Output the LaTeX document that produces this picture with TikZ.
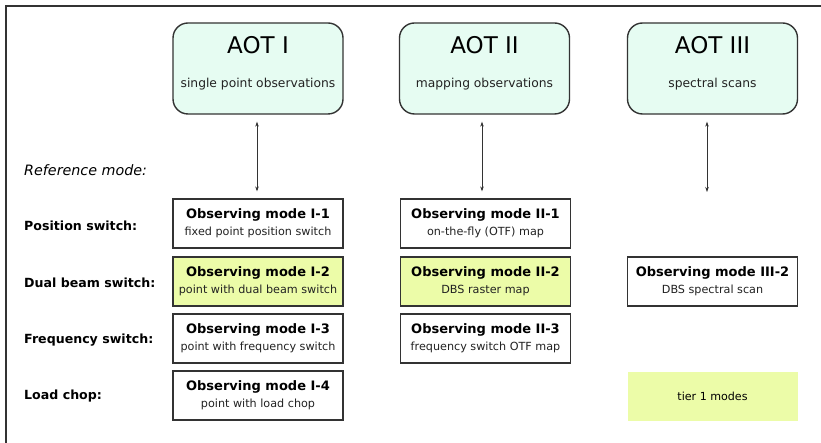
\documentclass[tikz,border=0pt]{standalone}
\usepackage{fontspec}
\setmainfont{DejaVu Sans}
\usetikzlibrary{arrows.meta,calc}
\definecolor{frameline}{HTML}{333333}
\definecolor{aotfill}{HTML}{E6FCF2}
\definecolor{tierfill}{HTML}{ECFCA8}
\definecolor{subtext}{HTML}{222222}
\tikzset{
  aotbox/.style={draw=frameline, line width=1.4pt, fill=aotfill, rounded corners=15pt,
    minimum width=170pt, minimum height=91pt, inner sep=0pt},
  aottitle/.style={font=\fontsize{23}{26}\selectfont, text=black, inner sep=0pt},
  aotsub/.style={font=\fontsize{12.3}{14}\selectfont, text=subtext, inner sep=0pt},
  modebox/.style={draw=frameline, line width=1.2pt, fill=white,
    minimum width=170pt, minimum height=49pt, inner sep=0pt, align=center,
    font=\fontsize{11.2}{17}\selectfont},
  tier/.style={fill=tierfill},
  rowlabel/.style={anchor=west, font=\fontsize{12.6}{14}\selectfont\bfseries, inner sep=0pt},
  linkarrow/.style={{Stealth[length=5pt,width=3.5pt]}-{Stealth[length=5pt,width=3.5pt]}, line width=0.6pt, draw=frameline}
}
\newcommand{\modetext}[2]{{\fontsize{13}{17}\selectfont\bfseries #1}\\{\color{subtext}#2}}
\begin{document}
\begin{tikzpicture}[x=1pt,y=-1pt]
  \useasboundingbox (0,0) rectangle (821,443);
  % frame lines along the top and left edges
  \draw[frameline, line width=1.4pt] (6,443) -- (6,6) -- (821,6);

  % AOT headers
  \node[aotbox] (a1) at (258,68.5) {};
  \node[aotbox] (a2) at (484.5,68.5) {};
  \node[aotbox] (a3) at (712.5,68.5) {};
  \node[aottitle] (a1t) at (258,45) {AOT I};
  \node[aottitle] (a2t) at (484.5,45) {AOT II};
  \node[aottitle] (a3t) at (712.5,45) {AOT III};
  \node[aotsub] (a1s) at (258,84) {single point observations};
  \node[aotsub] (a2s) at (484.5,84) {mapping observations};
  \node[aotsub] (a3s) at (712.5,84) {spectral scans};

  % row labels
  \node[anchor=west, inner sep=0pt, font=\fontsize{14.3}{16}\selectfont\itshape] (refmode) at (24,170) {Reference mode:};
  \node[rowlabel] (r1) at (24,226) {Position switch:};
  \node[rowlabel] (r2) at (24,283) {Dual beam switch:};
  \node[rowlabel] (r3) at (24,340) {Frequency switch:};
  \node[rowlabel] (r4) at (24,396) {Load chop:};

  % observing modes
  \node[modebox] (m11) at (258,223.5) {\modetext{Observing mode I-1}{fixed point position switch}};
  \node[modebox, tier] (m12) at (258,281.5) {\modetext{Observing mode I-2}{point with dual beam switch}};
  \node[modebox] (m13) at (258,338.5) {\modetext{Observing mode I-3}{point with frequency switch}};
  \node[modebox] (m14) at (258,395.5) {\modetext{Observing mode I-4}{point with load chop}};
  \node[modebox] (m21) at (485.5,223.5) {\modetext{Observing mode II-1}{on-the-fly (OTF) map}};
  \node[modebox, tier] (m22) at (485.5,281.5) {\modetext{Observing mode II-2}{DBS raster map}};
  \node[modebox] (m23) at (485.5,338.5) {\modetext{Observing mode II-3}{frequency switch OTF map}};
  \node[modebox] (m32) at (712.5,281.5) {\modetext{Observing mode III-2}{DBS spectral scan}};
  \node[modebox, draw=none, tier, font=\fontsize{11.1}{13}\selectfont] (legend) at (712.5,396) {tier 1 modes};

  % links between AOTs and reference modes
  \coordinate (a3end) at (707,192);
  \draw[linkarrow] ($(a1.south)+(-1,7)$) -- ($(m11.north)+(-1,-7)$);
  \draw[linkarrow] ($(a2.south)+(-2.5,7)$) -- ($(m21.north)+(-3.5,-7)$);
  \draw[linkarrow] ($(a3.south)+(-5.5,7)$) -- (a3end);
\end{tikzpicture}
\end{document}
